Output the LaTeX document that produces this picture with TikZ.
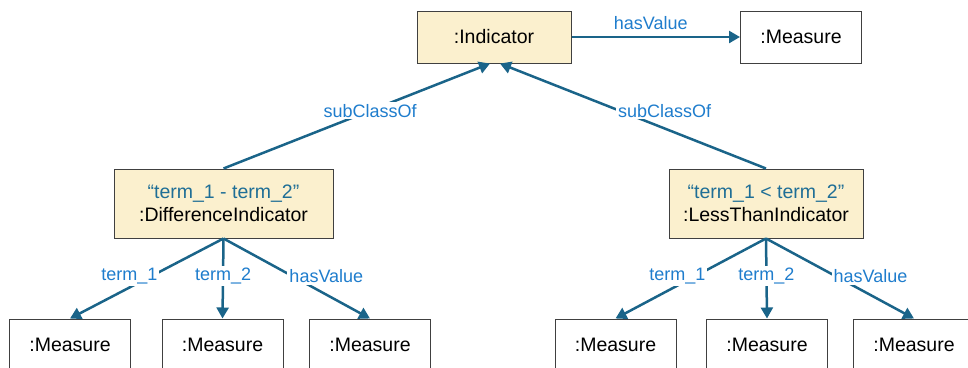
\documentclass[tikz,border=0pt]{standalone}
\usepackage{fontspec}
\setmainfont{Liberation Sans}
\usetikzlibrary{arrows.meta,calc}
\definecolor{boxfill}{RGB}{251,240,206}
\definecolor{boxline}{RGB}{64,64,64}
\definecolor{relline}{RGB}{26,100,137}
\definecolor{rellabel}{RGB}{31,125,205}
\definecolor{quotetext}{RGB}{30,110,150}
\def\indnode{\node[draw=boxline,fill=boxfill,line width=1pt,align=center,minimum height=52pt]}
\def\measnode{\node[draw=boxline,fill=white,line width=1pt,minimum width=121pt,minimum height=52pt]}
\def\drawrel{\draw[color=relline,line width=2.5pt,-{Triangle[length=11pt,width=12pt]}]}

\begin{document}
\begin{tikzpicture}[x=1pt,y=-1pt,font=\fontsize{19.5}{23}\selectfont,
  lab/.style={fill=white,text=rellabel,font=\fontsize{18}{20}\selectfont,inner sep=2pt}]
\useasboundingbox (0,0) rectangle (968,367);
\clip (0,0) rectangle (968,367);

% -------- top row ---------
\indnode[minimum width=154pt] (ind) at (494,37) {:Indicator};
\measnode (topm) at (801,37) {:Measure};
\drawrel (ind.east) to node[lab,above=4pt,xshift=-5pt] {hasValue} (topm.west);

% -------- the two sub classes ---------
\indnode[minimum width=219pt,minimum height=69pt] (diff) at (223.5,203.5)
  {{\color{quotetext}“term\_1 - term\_2”}\\:DifferenceIndicator};
\indnode[minimum width=194pt,minimum height=69pt] (less) at (766,203.5)
  {{\color{quotetext}“term\_1 < term\_2”}\\:LessThanIndicator};
\drawrel (diff.north) to node[lab,pos=0.55] {subClassOf} ($ (ind.south) + (-4,0) $);
\drawrel (less.north) to node[lab,pos=0.55,xshift=45pt] {subClassOf} ($ (ind.south) + (6,0) $);

% -------- measures of the difference ---------
\measnode (m1) at (70,345) {:Measure};
\measnode (m2) at (222.5,345) {:Measure};
\measnode (m3) at (370,345) {:Measure};
\drawrel (diff.south) to node[lab,pos=0.47,xshift=-22pt] {term\_1} (m1.north);
\drawrel (diff.south) to node[lab,pos=0.47] {term\_2} (m2.north);
\drawrel (diff.south) to node[lab,pos=0.47,xshift=34pt] {hasValue} (m3.north);

% -------- measures of the comparison ---------
\measnode (m4) at (615.5,345) {:Measure};
\measnode (m5) at (767,345) {:Measure};
\measnode (m6) at (914,345) {:Measure};
\drawrel (less.south) to node[lab,pos=0.47,xshift=-18pt] {term\_1} (m4.north);
\drawrel (less.south) to node[lab,pos=0.47] {term\_2} (m5.north);
\drawrel (less.south) to node[lab,pos=0.47,xshift=35pt] {hasValue} (m6.north);
\end{tikzpicture}
\end{document}
